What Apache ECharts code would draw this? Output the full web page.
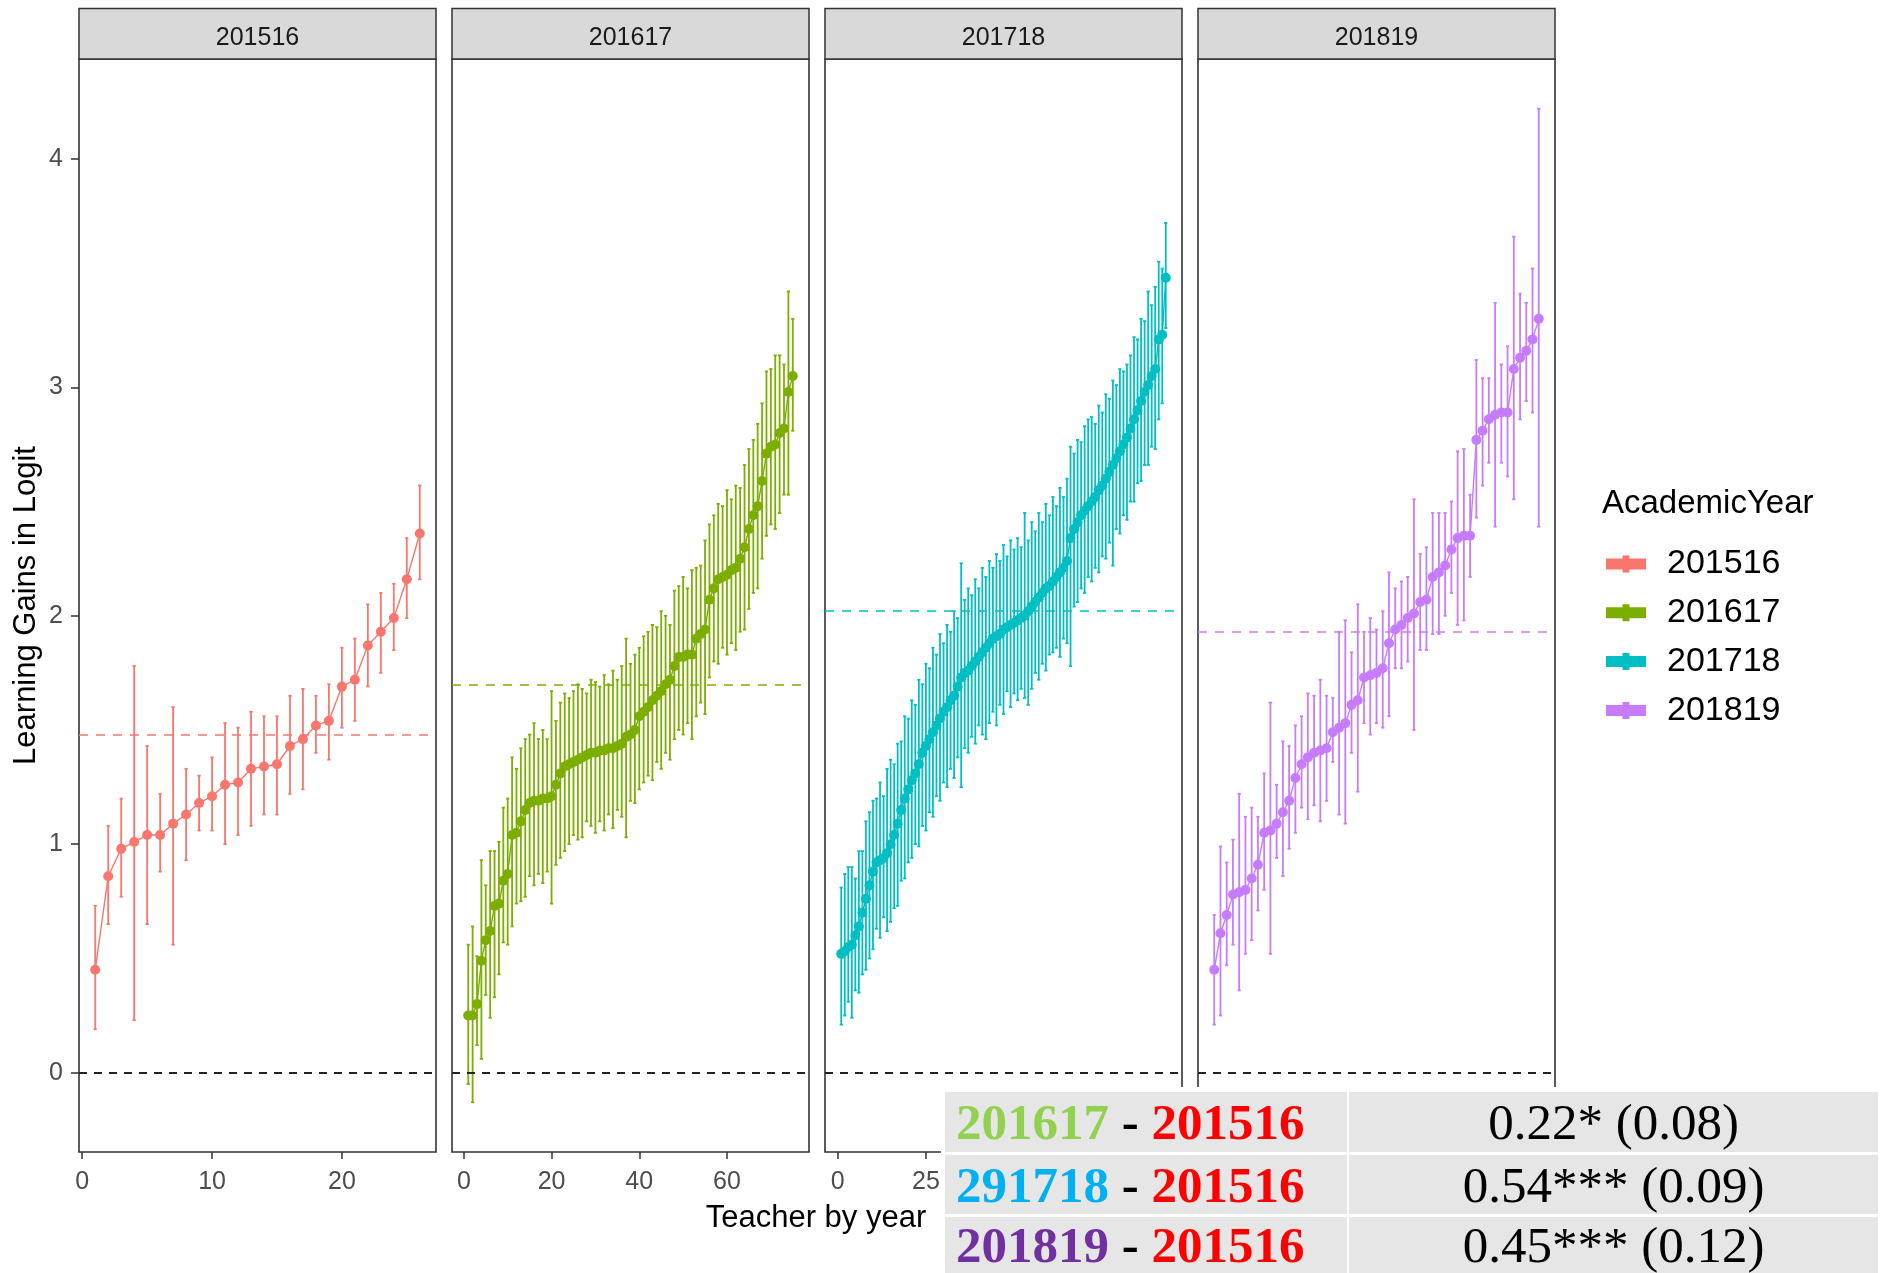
<!DOCTYPE html>
<html>
<head>
<meta charset="utf-8">
<title>Learning gains by teacher and academic year</title>
<script src="https://cdn.jsdelivr.net/npm/echarts@6/dist/echarts.min.js"></script>
<style>
  html, body { margin: 0; padding: 0; background: #ffffff; }
  #chart { width: 1884px; height: 1273px; }
</style>
</head>
<body>
<div id="chart"></div>
<script>
// ---- data -------------------------------------------------------------
// facets: one panel per academic year, teachers ranked by estimated gain
const years = ['201516', '201617', '201718', '201819'];
const yearColors = ['#F8766D', '#7CAE00', '#00BFC4', '#C77CFF'];

// overall estimate for each year (dashed reference line in each panel)
const yearMeans = [1.48, 1.70, 2.02, 1.93];

// 201516: 26 teachers
const gain201516 = [0.45, 0.86, 0.98, 1.01, 1.04, 1.04, 1.09, 1.13, 1.18, 1.21, 1.26, 1.27, 1.33, 1.34, 1.35, 1.43, 1.46, 1.52, 1.54, 1.69, 1.72, 1.87, 1.93, 1.99, 2.16, 2.36];
const lo201516 = [0.19, 0.65, 0.77, 0.23, 0.65, 0.88, 0.56, 0.93, 1.06, 1.06, 1.00, 1.04, 1.08, 1.13, 1.13, 1.22, 1.24, 1.40, 1.37, 1.51, 1.54, 1.69, 1.75, 1.85, 1.99, 2.16];
const hi201516 = [0.73, 1.08, 1.20, 1.78, 1.43, 1.22, 1.60, 1.33, 1.30, 1.38, 1.53, 1.51, 1.58, 1.56, 1.56, 1.65, 1.68, 1.65, 1.70, 1.86, 1.90, 2.05, 2.10, 2.14, 2.34, 2.57];

// 201617: 75 teachers
const gain201617 = [0.25, 0.25, 0.30, 0.49, 0.58, 0.62, 0.73, 0.74, 0.84, 0.87,
  1.04, 1.05, 1.10, 1.15, 1.18, 1.19, 1.19, 1.20, 1.20, 1.21,
  1.26, 1.31, 1.34, 1.35, 1.36, 1.37, 1.38, 1.39, 1.40, 1.40,
  1.41, 1.41, 1.42, 1.42, 1.43, 1.44, 1.47, 1.48, 1.50, 1.56,
  1.58, 1.60, 1.63, 1.65, 1.67, 1.70, 1.72, 1.78, 1.82, 1.82,
  1.83, 1.83, 1.90, 1.92, 1.94, 2.07, 2.12, 2.16, 2.17, 2.18,
  2.20, 2.21, 2.25, 2.30, 2.38, 2.44, 2.48, 2.59, 2.71, 2.74,
  2.75, 2.80, 2.82, 2.98, 3.05];
const lo201617 = [-0.05, -0.13, 0.12, 0.06, 0.34, 0.24, 0.33, 0.43, 0.57, 0.56,
  0.64, 0.74, 0.75, 0.77, 0.86, 0.82, 0.87, 0.83, 0.88, 0.74,
  0.91, 0.94, 0.97, 1.00, 1.04, 1.02, 1.03, 1.10, 1.08, 1.05,
  1.10, 1.06, 1.13, 1.07, 1.15, 1.12, 1.03, 1.19, 1.18, 1.24,
  1.27, 1.30, 1.28, 1.36, 1.33, 1.40, 1.37, 1.46, 1.50, 1.48,
  1.53, 1.46, 1.56, 1.62, 1.57, 1.73, 1.80, 1.79, 1.86, 1.83,
  1.88, 1.85, 1.93, 1.94, 2.03, 2.10, 2.12, 2.25, 2.35, 2.40,
  2.38, 2.45, 2.53, 2.53, 2.81];
const hi201617 = [0.56, 0.64, 0.51, 0.93, 0.82, 0.97, 0.97, 1.01, 1.16, 1.20,
  1.38, 1.33, 1.42, 1.46, 1.48, 1.53, 1.46, 1.50, 1.46, 1.67,
  1.54, 1.62, 1.66, 1.64, 1.67, 1.70, 1.68, 1.66, 1.72, 1.71,
  1.69, 1.74, 1.70, 1.76, 1.72, 1.78, 1.90, 1.79, 1.83, 1.86,
  1.91, 1.93, 1.96, 1.95, 2.02, 2.00, 1.96, 2.11, 2.13, 2.17,
  2.12, 2.20, 2.21, 2.22, 2.33, 2.40, 2.44, 2.49, 2.48, 2.55,
  2.51, 2.57, 2.56, 2.66, 2.73, 2.77, 2.84, 2.93, 3.07, 3.08,
  3.14, 3.14, 3.10, 3.42, 3.30];

// 201718: 93 teachers
const gain201718 = [0.52, 0.53, 0.55, 0.56, 0.60, 0.64, 0.70, 0.76, 0.82, 0.88,
  0.92, 0.93, 0.94, 0.96, 1.00, 1.04, 1.09, 1.15, 1.20, 1.24,
  1.28, 1.31, 1.35, 1.40, 1.43, 1.46, 1.49, 1.52, 1.55, 1.58,
  1.60, 1.63, 1.65, 1.69, 1.73, 1.75, 1.76, 1.78, 1.80, 1.82,
  1.84, 1.86, 1.88, 1.90, 1.91, 1.92, 1.94, 1.95, 1.96, 1.97,
  1.98, 1.99, 2.00, 2.02, 2.04, 2.06, 2.08, 2.10, 2.12, 2.13,
  2.15, 2.17, 2.19, 2.21, 2.24, 2.34, 2.38, 2.41, 2.44, 2.46,
  2.48, 2.50, 2.52, 2.55, 2.57, 2.60, 2.63, 2.66, 2.69, 2.72,
  2.75, 2.78, 2.82, 2.86, 2.90, 2.94, 2.98, 3.01, 3.05, 3.08,
  3.21, 3.23, 3.48];
const lo201718 = [0.21, 0.25, 0.31, 0.24, 0.36, 0.35, 0.43, 0.45, 0.50, 0.54,
  0.63, 0.59, 0.68, 0.62, 0.66, 0.72, 0.73, 0.84, 0.85, 0.92,
  0.94, 1.00, 0.99, 1.08, 1.06, 1.14, 1.12, 1.21, 1.19, 1.27,
  1.25, 1.33, 1.29, 1.38, 1.25, 1.42, 1.40, 1.47, 1.44, 1.52,
  1.48, 1.46, 1.53, 1.58, 1.52, 1.61, 1.57, 1.67, 1.60, 1.66,
  1.63, 1.68, 1.64, 1.61, 1.68, 1.75, 1.72, 1.79, 1.76, 1.83,
  1.84, 1.86, 1.82, 1.90, 1.88, 1.78, 2.04, 2.06, 2.12, 2.10,
  2.17, 2.15, 2.21, 2.19, 2.26, 2.25, 2.32, 2.22, 2.38, 2.36,
  2.44, 2.42, 2.50, 2.50, 2.58, 2.59, 2.66, 2.66, 2.74, 2.73,
  2.86, 2.93, 3.26];
const hi201718 = [0.81, 0.87, 0.90, 0.90, 0.85, 0.97, 0.97, 1.10, 1.14, 1.19,
  1.20, 1.27, 1.21, 1.33, 1.37, 1.35, 1.44, 1.45, 1.56, 1.55,
  1.63, 1.61, 1.72, 1.70, 1.79, 1.77, 1.86, 1.83, 1.92, 1.88,
  1.96, 1.93, 2.02, 1.99, 2.23, 2.07, 2.12, 2.09, 2.16, 2.12,
  2.21, 2.17, 2.24, 2.21, 2.27, 2.24, 2.31, 2.26, 2.33, 2.29,
  2.34, 2.30, 2.45, 2.33, 2.41, 2.37, 2.45, 2.41, 2.49, 2.44,
  2.52, 2.48, 2.56, 2.52, 2.60, 2.74, 2.71, 2.77, 2.76, 2.83,
  2.86, 2.87, 2.84, 2.92, 2.89, 2.97, 2.95, 3.03, 3.01, 3.08,
  3.07, 3.10, 3.14, 3.22, 3.21, 3.30, 3.29, 3.42, 3.36, 3.44,
  3.55, 3.52, 3.72];

// 201819: 53 teachers
const gain201819 = [0.45, 0.61, 0.69, 0.78, 0.79, 0.80, 0.85, 0.91, 1.05, 1.06,
  1.09, 1.14, 1.19, 1.29, 1.35, 1.38, 1.40, 1.41, 1.42, 1.49,
  1.51, 1.53, 1.61, 1.63, 1.73, 1.74, 1.75, 1.77, 1.88, 1.94,
  1.96, 1.99, 2.01, 2.06, 2.07, 2.17, 2.19, 2.22, 2.29, 2.34,
  2.35, 2.35, 2.77, 2.81, 2.86, 2.88, 2.89, 2.89, 3.08, 3.13,
  3.16, 3.21, 3.30];
const lo201819 = [0.21, 0.25, 0.47, 0.56, 0.36, 0.52, 0.58, 0.71, 0.80, 0.52,
  0.94, 0.86, 0.98, 1.05, 1.16, 1.11, 1.17, 1.10, 1.19, 1.36,
  1.13, 1.09, 1.40, 1.23, 1.53, 1.48, 1.53, 1.51, 1.56, 1.77,
  1.77, 1.80, 1.50, 1.85, 1.85, 1.92, 1.92, 2.00, 2.10, 1.96,
  1.98, 2.17, 2.43, 2.57, 2.67, 2.39, 2.67, 2.61, 2.51, 2.86,
  2.94, 2.89, 2.39];
const hi201819 = [0.69, 0.99, 0.92, 1.02, 1.22, 1.12, 1.16, 1.12, 1.31, 1.62,
  1.26, 1.45, 1.43, 1.52, 1.56, 1.66, 1.65, 1.72, 1.65, 1.64,
  1.93, 1.98, 1.84, 2.05, 1.93, 1.99, 1.94, 2.02, 2.19, 2.12,
  2.15, 2.17, 2.51, 2.27, 2.30, 2.45, 2.45, 2.45, 2.50, 2.72,
  2.73, 2.53, 3.12, 3.04, 3.04, 3.37, 3.10, 3.18, 3.66, 3.41,
  3.37, 3.52, 4.22];

const gains = [gain201516, gain201617, gain201718, gain201819];
const lows = [lo201516, lo201617, lo201718, lo201819];
const highs = [hi201516, hi201617, hi201718, hi201819];

// axis ticks
const xTicks = [[0, 10, 20], [0, 20, 40, 60], [0, 25, 50, 75], [0, 20, 40]];
const yTicks = [0, 1, 2, 3, 4];

// pairwise contrasts with the 201516 baseline
const contrastYears = [['201617', '201516'], ['291718', '201516'], ['201819', '201516']];
const contrastEstimates = ['0.22* (0.08)', '0.54*** (0.09)', '0.45*** (0.12)'];

// ---- layout -----------------------------------------------------------
const panelLeft = [79, 452, 825, 1198];
const panelWidth = 357;
const plotTop = 59;
const plotBottom = 1152;
const stripTop = 8.5;
const sansFont = '"Liberation Sans", Arial, sans-serif';
const serifFont = '"Liberation Serif", "Times New Roman", serif';
const contrastColors = ['#92D050', '#00B0F0', '#7030A0'];

// shared y range with 5% padding around all intervals
const allLo = Math.min.apply(null, lows.map(a => Math.min.apply(null, a)));
const allHi = Math.max.apply(null, highs.map(a => Math.max.apply(null, a)));
const yPad = 0.05 * (allHi - allLo);
const yMin = allLo - yPad;
const yMax = allHi + yPad;

function errorBarRenderer(color) {
  return function (params, api) {
    const x = api.value(0);
    const a = api.coord([x, api.value(1)]);
    const b = api.coord([x, api.value(2)]);
    const cap = 1.6;
    const st = { stroke: color, lineWidth: 1.8 };
    return {
      type: 'group',
      children: [
        { type: 'line', shape: { x1: a[0], y1: a[1], x2: b[0], y2: b[1] }, style: st },
        { type: 'line', shape: { x1: a[0] - cap, y1: a[1], x2: a[0] + cap, y2: a[1] }, style: st },
        { type: 'line', shape: { x1: b[0] - cap, y1: b[1], x2: b[0] + cap, y2: b[1] }, style: st }
      ]
    };
  };
}

const grids = [], xAxes = [], yAxes = [], series = [], graphics = [];

years.forEach(function (year, k) {
  const n = gains[k].length;
  const xPad = 0.05 * (n - 1);
  const color = yearColors[k];

  grids.push({
    left: panelLeft[k], top: plotTop, width: panelWidth, height: plotBottom - plotTop,
    show: true, backgroundColor: '#ffffff', borderColor: '#333333', borderWidth: 1.6,
    containLabel: false, outerBoundsMode: 'none'
  });

  xAxes.push({
    gridIndex: k, type: 'value', min: 1 - xPad, max: n + xPad, position: 'bottom',
    axisLine: { show: false, onZero: false }, splitLine: { show: false },
    axisTick: { show: true, inside: false, customValues: xTicks[k], length: 7, lineStyle: { color: '#333333', width: 1.5 } },
    axisLabel: { show: true, inside: false, customValues: xTicks[k], margin: 18, fontSize: 25, color: '#4d4d4d', fontFamily: sansFont }
  });

  yAxes.push({
    gridIndex: k, type: 'value', min: yMin, max: yMax, position: 'left',
    axisLine: { show: false, onZero: false }, splitLine: { show: false },
    axisTick: { show: k === 0, inside: false, customValues: yTicks, length: 8, lineStyle: { color: '#333333', width: 1.5 } },
    axisLabel: {
      show: k === 0, inside: false, customValues: yTicks, margin: 16,
      align: 'right', verticalAlign: 'middle',
      fontSize: 25, color: '#4d4d4d', fontFamily: sansFont
    }
  });

  // confidence intervals
  series.push({
    type: 'custom', name: 'ci-' + year, xAxisIndex: k, yAxisIndex: k,
    data: gains[k].map(function (v, i) { return [i + 1, lows[k][i], highs[k][i]]; }),
    encode: { x: 0, y: [1, 2] },
    renderItem: errorBarRenderer(color),
    silent: true, z: 2
  });

  // teacher estimates, connected in rank order
  series.push({
    type: 'line', name: year, xAxisIndex: k, yAxisIndex: k,
    data: gains[k].map(function (v, i) { return [i + 1, v]; }),
    color: color,
    symbol: 'circle', symbolSize: 10, showSymbol: true, showAllSymbol: true,
    lineStyle: { width: 1.4, color: color },
    itemStyle: { color: color, borderWidth: 0 },
    emphasis: { disabled: true },
    silent: true, z: 3,
    markLine: {
      silent: true, symbol: ['none', 'none'], label: { show: false },
      emphasis: { disabled: true },
      data: [
        { yAxis: yearMeans[k], lineStyle: { color: color, type: [9, 8], width: 1.6 } },
        { yAxis: 0, lineStyle: { color: '#222222', type: [8, 7], width: 2 } }
      ]
    }
  });

  // facet strip
  graphics.push({
    type: 'rect', z: 10,
    shape: { x: panelLeft[k], y: stripTop, width: panelWidth, height: plotTop - stripTop },
    style: { fill: '#D9D9D9', stroke: '#333333', lineWidth: 1.5 }
  });
  graphics.push({
    type: 'text', z: 11, x: panelLeft[k] + panelWidth / 2, y: (stripTop + plotTop) / 2 + 4,
    style: {
      text: year, fill: '#1a1a1a', fontSize: 25, fontFamily: sansFont,
      align: 'center', verticalAlign: 'middle', textAlign: 'center', textVerticalAlign: 'middle'
    }
  });
});

// axis titles
graphics.push({
  type: 'text', z: 11, x: 26.5, y: (plotTop + plotBottom) / 2, rotation: Math.PI / 2,
  style: {
    text: 'Learning Gains in Logit', fill: '#000000', fontSize: 31, fontFamily: sansFont,
    align: 'center', verticalAlign: 'middle', textAlign: 'center', textVerticalAlign: 'middle'
  }
});
graphics.push({
  type: 'text', z: 11, x: 816, y: 1218,
  style: {
    text: 'Teacher by year', fill: '#000000', fontSize: 31, fontFamily: sansFont,
    align: 'center', verticalAlign: 'middle', textAlign: 'center', textVerticalAlign: 'middle'
  }
});

// legend title
graphics.push({
  type: 'text', z: 11, x: 1602, y: 504,
  style: {
    text: 'AcademicYear', fill: '#000000', fontSize: 33, fontFamily: sansFont,
    align: 'left', verticalAlign: 'middle', textAlign: 'left', textVerticalAlign: 'middle'
  }
});

// contrasts table, drawn over the lower right corner
const tableLeft = 945, tableSplit = 1349, tableRight = 1878;
const rowTops = [1092, 1155, 1217];
const rowBottoms = [1152, 1214, 1273];
graphics.push({
  type: 'rect', z: 100,
  shape: { x: 941, y: 1087, width: 1884 - 941, height: 1273 - 1087 },
  style: { fill: '#ffffff' }
});
contrastYears.forEach(function (pair, r) {
  const h = rowBottoms[r] - rowTops[r];
  graphics.push({
    type: 'rect', z: 101,
    shape: { x: tableLeft, y: rowTops[r], width: tableSplit - 2 - tableLeft, height: h },
    style: { fill: '#E6E6E6' }
  });
  graphics.push({
    type: 'rect', z: 101,
    shape: { x: tableSplit, y: rowTops[r], width: tableRight - tableSplit, height: h },
    style: { fill: '#E6E6E6' }
  });
  const cy = (rowTops[r] + rowBottoms[r]) / 2 + 4;
  graphics.push({
    type: 'text', z: 102, x: 956, y: cy,
    style: {
      text: '{a|' + pair[0] + '} {d|-} {b|' + pair[1] + '}',
      fontSize: 51, fontWeight: 'bold', fontFamily: serifFont, fill: '#000000',
      align: 'left', verticalAlign: 'middle', textAlign: 'left', textVerticalAlign: 'middle',
      rich: {
        a: { fill: contrastColors[r], fontSize: 51, fontWeight: 'bold', fontFamily: serifFont },
        d: { fill: '#000000', fontSize: 51, fontWeight: 'bold', fontFamily: serifFont },
        b: { fill: '#FF0000', fontSize: 51, fontWeight: 'bold', fontFamily: serifFont }
      }
    }
  });
  graphics.push({
    type: 'text', z: 102, x: (tableSplit + tableRight) / 2, y: cy,
    style: {
      text: contrastEstimates[r], fill: '#000000', fontSize: 51, fontFamily: serifFont,
      align: 'center', verticalAlign: 'middle', textAlign: 'center', textVerticalAlign: 'middle'
    }
  });
});

const chart = echarts.init(document.getElementById('chart'), null, { renderer: 'canvas', width: 1884, height: 1273 });
chart.setOption({
  animation: false,
  backgroundColor: '#ffffff',
  grid: grids,
  xAxis: xAxes,
  yAxis: yAxes,
  series: series,
  legend: {
    data: years.slice(),
    orient: 'vertical', left: 1606, top: 547, padding: 0,
    itemWidth: 40, itemHeight: 17, itemGap: 14.8,
    icon: 'path://M0,3L16.5,3L16.5,0L23.5,0L23.5,3L40,3L40,14L23.5,14L23.5,17L16.5,17L16.5,14L0,14Z',
    itemStyle: { borderWidth: 0 },
    selectedMode: false,
    textStyle: { fontSize: 34, lineHeight: 34, color: '#000000', fontFamily: sansFont, padding: [0, 0, 0, 16] }
  },
  graphic: { elements: graphics }
});
</script>
</body>
</html>
